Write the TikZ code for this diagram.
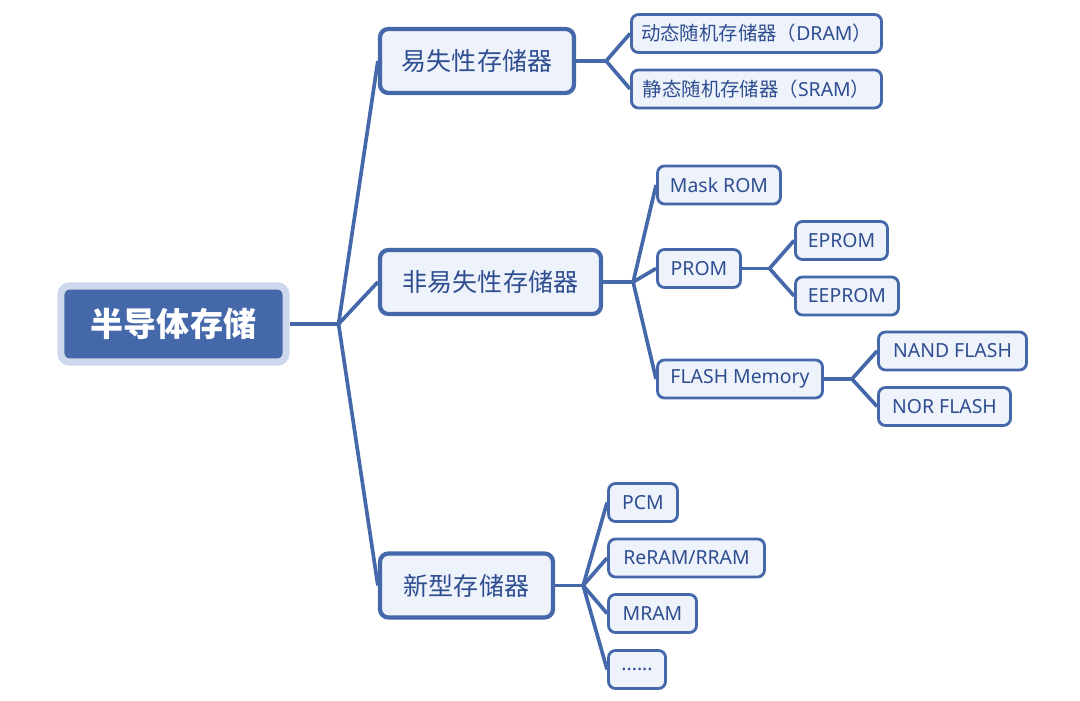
\documentclass[tikz,border=0pt]{standalone}
\usepackage{fontspec}
\setmainfont{Noto Sans}
\newfontfamily\cjkfont{Noto Sans CJK SC}
\usetikzlibrary{positioning,backgrounds}

\definecolor{memline}{RGB}{68,104,170}
\definecolor{memfill}{RGB}{238,242,250}
\definecolor{memhalo}{RGB}{205,216,236}
\definecolor{memtext}{RGB}{46,78,145}

\tikzset{
  rootbox/.style={draw=memhalo, line width=5pt, fill=memline, rounded corners=6pt,
    text=white, font=\cjkfont\bfseries\fontsize{23.5}{26}\selectfont,
    minimum width=5.625cm, minimum height=1.9cm, inner sep=2pt},
  mainbox/.style={draw=memline, line width=3pt, fill=memfill, rounded corners=6pt,
    text=memtext, font=\cjkfont\fontsize{17.8}{20}\selectfont,
    minimum height=1.6cm, inner sep=2pt},
  subbox/.style={draw=memline, line width=2pt, fill=memfill, rounded corners=5pt,
    text=memtext, font=\fontsize{13.8}{16}\selectfont,
    minimum height=0.95cm, inner sep=2pt},
  branch/.style={memline, line width=2.6pt},
}

\begin{document}
\begin{tikzpicture}[x=0.025cm, y=-0.025cm]
\useasboundingbox (0,0) rectangle (1080,701);

% root
\node[rootbox] (root) at (173.5,324) {半导体存储};

% first level
\node[mainbox, minimum width=4.85cm]  (vol)  at (477,61)     {易失性存储器};
\node[mainbox, minimum width=5.525cm] (nvol) at (490.5,282)  {非易失性存储器};
\node[mainbox, minimum width=4.325cm] (new)  at (466.5,585.5) {新型存储器};

% volatile
\node[subbox, minimum width=6.25cm] (dram) at (756.5,33.5)
  {{\cjkfont 动态随机存储器（}DRAM{\cjkfont ）}};
\node[subbox, minimum width=6.25cm] (sram) at (756.5,89)
  {{\cjkfont 静态随机存储器（}SRAM{\cjkfont ）}};

% non-volatile
\node[subbox, minimum width=3.075cm] (mask)  at (719,185)     {Mask ROM};
\node[subbox, minimum width=2.075cm] (prom)  at (699,268.5)   {PROM};
\node[subbox, minimum width=2.3cm]   (eprom) at (841.5,240.5) {EPROM};
\node[subbox, minimum width=2.575cm] (eeprom) at (847,296)    {EEPROM};
\node[subbox, minimum width=4.125cm] (flash) at (740,379)     {FLASH Memory};
\node[subbox, minimum width=3.7cm]   (nand)  at (952.5,351)   {NAND FLASH};
\node[subbox, minimum width=3.3cm]   (nor)   at (944.5,406.5) {NOR FLASH};

% new types
\node[subbox, minimum width=1.725cm] (pcm)   at (643,502.5)   {PCM};
\node[subbox, minimum width=3.9cm]   (reram) at (686.5,558)   {ReRAM/RRAM};
\node[subbox, minimum width=2.2cm]   (mram)  at (652.5,613.5) {MRAM};
\node[subbox, minimum width=1.425cm] (more)  at (637,669.5)   {......};

% junctions
\coordinate[right=1.225cm of root.east] (jroot);
\coordinate[right=0.75cm of vol.east]   (jvol);
\coordinate[right=0.75cm of nvol.east]  (jnvol);
\coordinate[right=0.69cm of prom.east]  (jprom);
\coordinate[right=0.7cm of flash.east]  (jflash);
\coordinate[right=0.7cm of new.east]    (jnew);

% branches
\begin{scope}[on background layer]
  \draw[branch] (root.east) -- (jroot);
  \foreach \c in {vol,nvol,new} \draw[branch] (jroot) -- (\c.west);
  \draw[branch] (vol.east) -- (jvol);
  \foreach \c in {dram,sram} \draw[branch] (jvol) -- (\c.west);
  \draw[branch] (nvol.east) -- (jnvol);
  \foreach \c in {mask,prom,flash} \draw[branch] (jnvol) -- (\c.west);
  \draw[branch] (prom.east) -- (jprom);
  \foreach \c in {eprom,eeprom} \draw[branch] (jprom) -- (\c.west);
  \draw[branch] (flash.east) -- (jflash);
  \foreach \c in {nand,nor} \draw[branch] (jflash) -- (\c.west);
  \draw[branch] (new.east) -- (jnew);
  \foreach \c in {pcm,reram,mram,more} \draw[branch] (jnew) -- (\c.west);
\end{scope}

\end{tikzpicture}
\end{document}
